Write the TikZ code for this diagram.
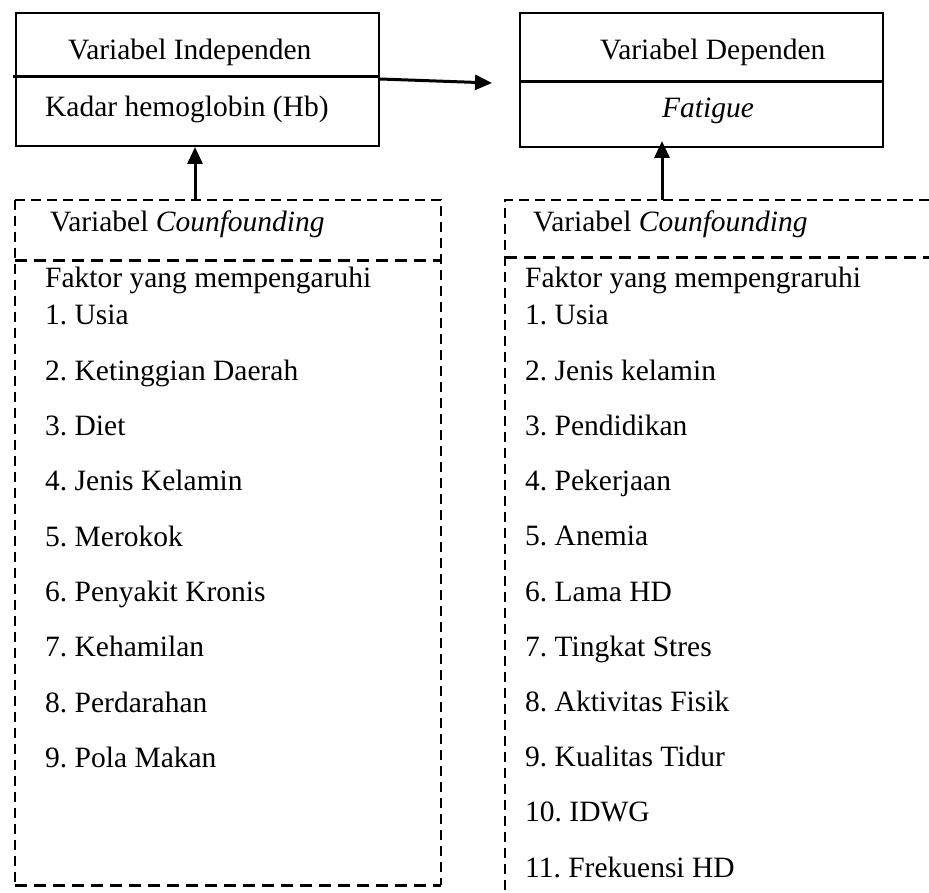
\documentclass[tikz,border=0pt]{standalone}
\usepackage{fontspec}
\setmainfont{Liberation Serif}
\usetikzlibrary{arrows.meta}
\frenchspacing
\begin{document}
\begin{tikzpicture}[x=1pt,y=-1pt,
  solidbox/.style={draw=black,line width=2pt,rectangle,inner sep=0pt},
  divline/.style={line width=3pt},
  conn/.style={line width=3pt,-{Triangle[length=17pt,width=15pt]}},
  thindash/.style={line width=1.8pt,dash pattern=on 10pt off 6pt},
  thickdash/.style={line width=3pt,dash pattern=on 12pt off 7pt},
  lbl/.style={anchor=base west,inner sep=0pt,font=\fontsize{29.5}{35}\selectfont}]
\useasboundingbox (0,0) rectangle (929,893);
% top solid boxes
\node[solidbox,minimum width=363pt,minimum height=133pt] (indep) at (197.5,79.5) {};
\node[solidbox,minimum width=363pt,minimum height=134pt] (dep) at (701.5,80) {};
\draw[divline] (13,77) -- (indep.east |- 0,77);
\draw[divline] (dep.west |- 0,82) -- (dep.east |- 0,82);
\node[lbl] (indepT) at (68,60) {Variabel Independen};
\node[lbl] (indepV) at (45,117) {Kadar hemoglobin (Hb)};
\node[lbl] (depT) at (600,60) {Variabel Dependen};
\node[lbl] (depV) at (662,118) {\itshape Fatigue};
% dashed confounding boxes
\coordinate (c1tl) at (15,200);
\coordinate (c1tr) at (441,200);
\coordinate (c1bl) at (15,885);
\coordinate (c1br) at (441,885);
\draw[thindash] (c1tl) -- (c1tr) -- (c1br);
\draw[thindash] (c1tl) -- (c1bl);
\draw[thickdash] (c1bl) -- (c1br);
\draw[thickdash] (15,261) -- (441,261);
\coordinate (c2tl) at (505,200);
\coordinate (c2tr) at (929,200);
\coordinate (c2bl) at (505,893);
\draw[thindash] (c2tr) -- (c2tl) -- (c2bl);
\draw[thickdash] (505,258) -- (929,258);
\node[lbl] (conf1) at (50,232) {Variabel \itshape Counfounding};
\node[lbl] (conf2) at (533,232) {Variabel \itshape Counfounding};
% connectors
\coordinate (a1s) at (195,200);
\coordinate (a2s) at (662,200);
\draw[conn] (indep.east |- 0,79) -- ([xshift=-27pt,yshift=-3pt]dep.west);
\draw[conn] (a1s) -- (a1s |- indep.south);
\draw[conn,shorten >=-7pt] (a2s) -- (a2s |- dep.south);
% left list
\node[lbl] (l0) at (45,288) {Faktor yang mempengaruhi};
\foreach \t [count=\i] in {Usia,Ketinggian Daerah,Diet,Jenis Kelamin,Merokok,Penyakit Kronis,Kehamilan,Perdarahan,Pola Makan}
  \node[lbl] (l\i) at (45,{325+(\i-1)*55.3}) {\i. \t};
% right list
\node[lbl] (r0) at (525,288) {Faktor yang mempengraruhi};
\foreach \t [count=\i] in {Usia,Jenis kelamin,Pendidikan,Pekerjaan,Anemia,Lama HD,Tingkat Stres,Aktivitas Fisik,Kualitas Tidur,IDWG,Frekuensi HD}
  \node[lbl] (r\i) at (525,{325+(\i-1)*55.2}) {\i. \t};
\end{tikzpicture}
\end{document}
